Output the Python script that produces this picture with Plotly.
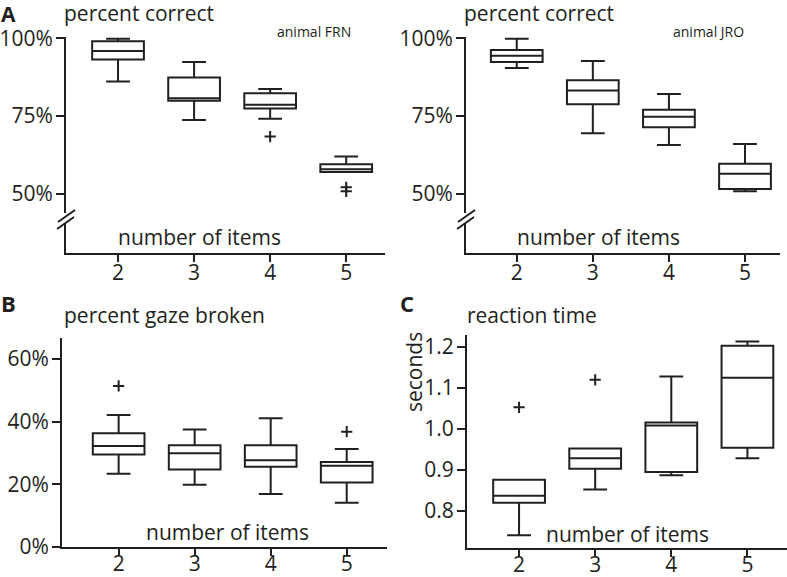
import plotly.graph_objects as go

W, H = 787, 577
INK = "#231f20"
FONT = "Open Sans"

items = [2, 3, 4, 5]

# Panel A (animal FRN) - percent correct
frn_low = [86.1, 73.7, 74.1, 57.0]
frn_q1 = [93.2, 79.9, 77.4, 57.0]
frn_med = [95.9, 80.7, 78.6, 57.9]
frn_q3 = [99.0, 87.4, 82.3, 59.5]
frn_high = [99.8, 92.4, 83.7, 62.0]
frn_out_x = [4, 5, 5]
frn_out_y = [68.4, 52.1, 50.8]

# Panel A (animal JRO) - percent correct
jro_low = [90.4, 69.5, 65.7, 50.8]
jro_q1 = [92.4, 78.8, 71.4, 51.6]
jro_med = [94.4, 83.2, 74.8, 56.5]
jro_q3 = [96.2, 86.5, 77.0, 59.7]
jro_high = [99.8, 92.7, 82.1, 66.0]

# Panel B - percent gaze broken
gaze_low = [23.4, 19.9, 16.9, 14.1]
gaze_q1 = [29.5, 24.7, 25.6, 20.6]
gaze_med = [32.2, 29.9, 27.7, 25.9]
gaze_q3 = [36.3, 32.5, 32.5, 27.1]
gaze_high = [42.1, 37.5, 41.1, 31.3]
gaze_out_x = [2, 5]
gaze_out_y = [51.4, 36.8]

# Panel C - reaction time (seconds)
rt_low = [0.741, 0.852, 0.887, 0.928]
rt_q1 = [0.820, 0.903, 0.895, 0.954]
rt_med = [0.837, 0.928, 1.008, 1.124]
rt_q3 = [0.876, 0.952, 1.015, 1.202]
rt_high = [0.876, 0.952, 1.127, 1.212]
rt_out_x = [2, 3]
rt_out_y = [1.052, 1.119]

pct_ticks_a = [50, 75, 100]
pct_ticks_b = [0, 20, 40, 60]
rt_ticks = [0.8, 0.9, 1.0, 1.1, 1.2]


def px(x):
    return x / W


def py(y):
    return 1 - y / H


fig = go.Figure()


def add_box(xa, ya, low, q1, med, q3, high):
    fig.add_trace(go.Box(
        x=items, q1=q1, median=med, q3=q3, lowerfence=low, upperfence=high,
        width=0.68, whiskerwidth=0.46, boxpoints=False,
        line=dict(color=INK, width=2), fillcolor="white",
        xaxis=xa, yaxis=ya, showlegend=False, hoverinfo="skip"))


def add_out(xa, ya, xs, ys):
    fig.add_trace(go.Scatter(
        x=xs, y=ys, mode="markers", xaxis=xa, yaxis=ya, showlegend=False,
        marker=dict(symbol="cross-thin", size=8, line=dict(color=INK, width=2)),
        hoverinfo="skip"))


add_box("x", "y", frn_low, frn_q1, frn_med, frn_q3, frn_high)
add_out("x", "y", frn_out_x, frn_out_y)
add_box("x2", "y2", jro_low, jro_q1, jro_med, jro_q3, jro_high)
add_box("x3", "y3", gaze_low, gaze_q1, gaze_med, gaze_q3, gaze_high)
add_out("x3", "y3", gaze_out_x, gaze_out_y)
add_box("x4", "y4", rt_low, rt_q1, rt_med, rt_q3, rt_high)
add_out("x4", "y4", rt_out_x, rt_out_y)

axis_common = dict(showline=True, linecolor=INK, linewidth=2, ticks="outside",
                   tickwidth=2, tickcolor=INK, showgrid=False, automargin=False,
                   zeroline=False, tickfont=dict(family=FONT, size=21, color=INK),
                   fixedrange=True)

xa_top = dict(axis_common, ticklen=7, ticklabelstandoff=-7, tickvals=items,
              ticktext=[str(i) for i in items])
xa_bot = dict(xa_top, ticklabelstandoff=-10)
ya_common = dict(axis_common, ticklen=8, ticklabelstandoff=-1)

fig.update_layout(
    template="none",
    width=W, height=H, margin=dict(l=0, r=0, t=0, b=0, pad=0),
    paper_bgcolor="white", plot_bgcolor="white", showlegend=False,
    font=dict(family=FONT, color=INK),
    xaxis=dict(xa_top, domain=[px(66), px(385)], range=[1.316, 5.51], anchor="y"),
    yaxis=dict(ya_common, domain=[py(253), py(37)], range=[31.0, 100.4], anchor="x",
               tickvals=pct_ticks_a, ticktext=[f"{v}%" for v in pct_ticks_a]),
    xaxis2=dict(xa_top, domain=[px(466), px(780)], range=[1.333, 5.46], anchor="y2"),
    yaxis2=dict(ya_common, domain=[py(253), py(37)], range=[31.0, 100.4], anchor="x2",
                tickvals=pct_ticks_a, ticktext=[f"{v}%" for v in pct_ticks_a]),
    xaxis3=dict(xa_bot, domain=[px(62), px(387)], range=[1.255, 5.53], anchor="y3"),
    yaxis3=dict(ya_common, domain=[py(547), py(338)], range=[0, 66.7], anchor="x3",
                tickvals=pct_ticks_b, ticktext=[f"{v}%" for v in pct_ticks_b]),
    xaxis4=dict(xa_bot, domain=[px(467), 1.0], range=[1.316, 5.52], anchor="y4"),
    yaxis4=dict(ya_common, domain=[py(548), py(335)], range=[0.710, 1.228], anchor="x4",
                tickvals=rt_ticks, ticktext=[f"{v:.1f}" for v in rt_ticks]),
)

# axis break marks on panel A y axes
shapes = []
for ax_x in (66, 466):
    shapes.append(dict(type="rect", xref="paper", yref="paper",
                       x0=px(ax_x - 3), x1=px(ax_x + 3), y0=py(224), y1=py(213),
                       fillcolor="white", line=dict(width=0), layer="above"))
    shapes.append(dict(type="line", xref="paper", yref="paper",
                       x0=px(ax_x - 8), y0=py(222), x1=px(ax_x + 9), y1=py(210),
                       line=dict(color=INK, width=2), layer="above"))
    shapes.append(dict(type="line", xref="paper", yref="paper",
                       x0=px(ax_x - 9), y0=py(229), x1=px(ax_x + 8), y1=py(217),
                       line=dict(color=INK, width=2), layer="above"))
fig.update_layout(shapes=shapes)


def ann(text, x, y, size=21, xanchor="left", bold=False, angle=0):
    fig.add_annotation(text=f"<b>{text}</b>" if bold else text,
                       xref="paper", yref="paper", x=px(x), y=py(y),
                       xanchor=xanchor, yanchor="middle", showarrow=False,
                       textangle=angle, borderpad=0,
                       font=dict(family=FONT, size=size, color=INK))


ann("A", 0, 14, size=21, bold=True)
ann("B", 0, 303, size=22, bold=True)
ann("C", 399, 303, size=22, bold=True)
ann("percent correct", 63, 13)
ann("percent correct", 463, 13)
ann("animal FRN", 276, 32, size=14)
ann("animal JRO", 672, 32, size=14)
ann("number of items", 117, 237)
ann("number of items", 516, 237)
ann("percent gaze broken", 63, 315)
ann("number of items", 145, 532)
ann("reaction time", 466, 315)
ann("number of items", 545, 534)
ann("seconds", 414, 372, xanchor="center", angle=-90)

fig.write_html(
    "out.html",
    config={"displayModeBar": False, "staticPlot": True},
    post_script="document.body.style.margin='0';document.body.style.overflow='hidden';",
)
